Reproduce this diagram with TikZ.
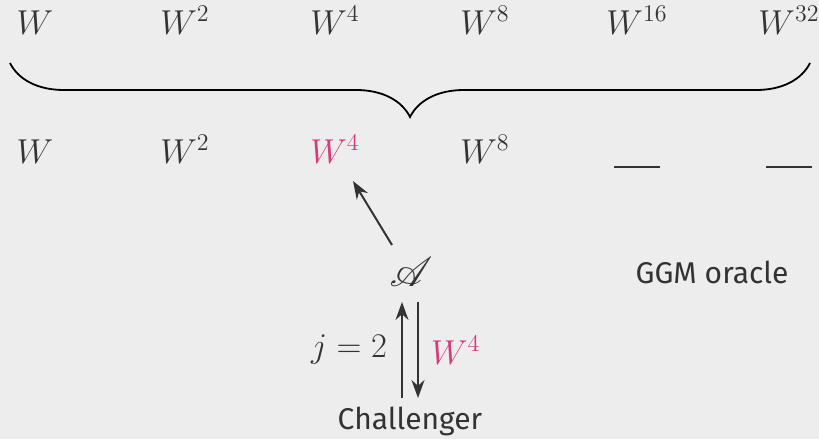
\documentclass[tikz,border=0pt]{standalone}
\usepackage{fontspec}
\setsansfont{Fira Sans}
\usepackage{mathrsfs}
\definecolor{BgGray}{RGB}{237,237,237}
\definecolor{InkGray}{RGB}{51,51,51}
\definecolor{QueryPink}{RGB}{214,58,120}
\usetikzlibrary{arrows.meta,positioning,decorations.pathreplacing}

\begin{document}
\begin{tikzpicture}[x=0.5pt, y=-0.5pt,
      every node/.style={text=InkGray, font=\fontsize{16.5}{19}\selectfont},
      power/.style={anchor=base},
      asked/.style={power, text=QueryPink},
      label/.style={font=\fontsize{15}{18}\selectfont\sffamily},
      link/.style={draw=InkGray, line width=1pt, -{Stealth[length=9pt,width=6.5pt]}},
      blank/.style={anchor=base, inner sep=0pt}
    ]
      % background and frame
      \fill[BgGray] (0,0) rectangle (819,439);
      \useasboundingbox (0,0) rectangle (819,439);

      % powers of W
      \node[power] (t1) at (35,34) {$W$};
      \node[power] (t2) at (185,34) {$W^2$};
      \node[power] (t4) at (335,34) {$W^4$};
      \node[power] (t8) at (485,34) {$W^8$};
      \node[power] (t16) at (637,34) {$W^{16}$};
      \node[power] (t32) at (789,34) {$W^{32}$};

      \draw[black, line width=0.9pt, decorate,
            decoration={brace, mirror, amplitude=27pt}]
        (10,63) -- (810,63);

      % what the oracle has answered so far
      \node[power] (b1) at (35,163) {$W$};
      \node[power] (b2) at (185,163) {$W^2$};
      \node[asked] (b4) at (335,163) {$W^4$};
      \node[power] (b8) at (485,163) {$W^8$};
      \node[blank] (b16) at (637,168) {\color{InkGray}\rule{23pt}{0.9pt}};
      \node[blank] (b32) at (789,168) {\color{InkGray}\rule{23pt}{0.9pt}};

      \node (adv) at (411,272) {\fontsize{21}{24}\selectfont$\mathscr{A}$};
      \node[label] (ggm) at (712,272) {GGM oracle};
      \node[label] (chal) at (410,421) {Challenger};

      \coordinate (aq) at (392,245);
      \coordinate (hit) at (353,181);
      \coordinate (up0) at (402,398);
      \coordinate (up1) at (402,302);
      \coordinate (dn0) at (418,302);
      \coordinate (dn1) at (418,398);

      \draw[link] (aq) -- (hit);
      \draw[link] (up0) -- (up1);
      \draw[link] (dn0) -- (dn1);

      \node[anchor=east] (jq) at (394,350) {$j=2$};
      \node[anchor=west, text=QueryPink] (ans) at (424,350) {$W^4$};
\end{tikzpicture}
\end{document}
